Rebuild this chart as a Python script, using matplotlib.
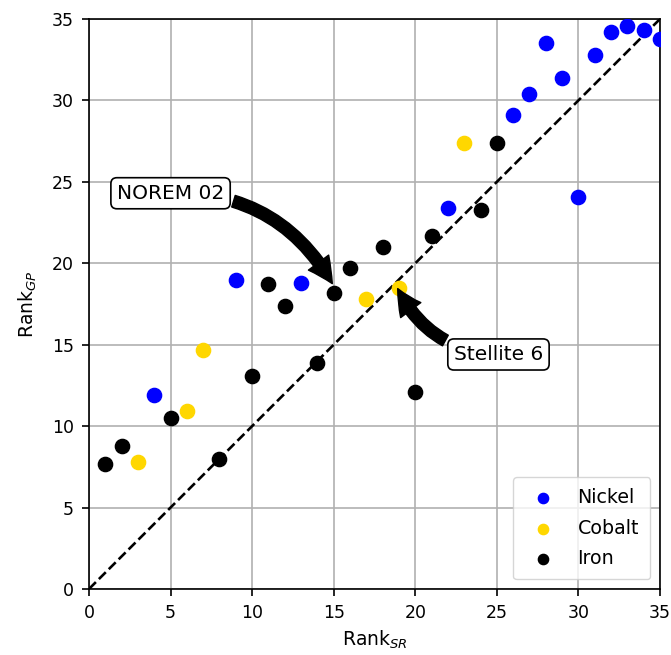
import matplotlib.pyplot as plt

# -----------------------------
# Data (rank by SR vs rank by GP)
# -----------------------------
nickel_sr = [4, 9, 13, 22, 26, 27, 28, 29, 30, 31, 32, 33, 34, 35]
nickel_gp = [11.9, 19.0, 18.8, 23.4, 29.1, 30.4, 33.5, 31.4, 24.1, 32.8, 34.2, 34.6, 34.3, 33.8]

cobalt_sr = [3, 6, 7, 17, 19, 23]
cobalt_gp = [7.8, 10.9, 14.7, 17.8, 18.5, 27.4]

iron_sr = [1, 2, 5, 8, 10, 11, 12, 14, 15, 16, 18, 20, 21, 24, 25]
iron_gp = [7.7, 8.8, 10.5, 8.0, 13.1, 18.7, 17.4, 13.9, 18.2, 19.7, 21.0, 12.1, 21.7, 23.3, 27.4]

fig = plt.figure(figsize=(6.71, 6.55), dpi=100)
ax = fig.add_axes([0.1326, 0.1008, 0.851, 0.8702])

ax.plot([0, 35], [0, 35], "k--", linewidth=1.9, zorder=2)

ax.scatter(nickel_sr, nickel_gp, s=105, color="blue", label="Nickel", zorder=3)
ax.scatter(cobalt_sr, cobalt_gp, s=105, color="gold", label="Cobalt", zorder=3)
ax.scatter(iron_sr, iron_gp, s=105, color="black", label="Iron", zorder=3)

# -----------------------------
# Annotations
# -----------------------------
bbox = dict(boxstyle="round,pad=0.3", fc="white", ec="black", lw=1.2)
arrow = dict(arrowstyle="simple,head_width=1.25,head_length=1.25,tail_width=0.6",
             connectionstyle="arc3,rad=-0.3", fc="black", ec="black")

ax.annotate("NOREM 02", xy=(15, 18.6), xytext=(5.0, 24.3),
            fontsize=14.5, ha="center", va="center", bbox=bbox,
            arrowprops=arrow, zorder=4)
ax.annotate("Stellite 6", xy=(18.85, 18.6), xytext=(25.1, 14.4),
            fontsize=14.5, ha="center", va="center", bbox=bbox,
            arrowprops=arrow, zorder=4)

ax.set_xlim(0, 35)
ax.set_ylim(0, 35)
ax.set_xticks(range(0, 36, 5))
ax.set_yticks(range(0, 36, 5))
ax.tick_params(labelsize=12.5, length=5, width=1.2, pad=6)
for sp in ax.spines.values():
    sp.set_linewidth(1.2)
ax.grid(True, color="#b0b0b0", linewidth=1.2)
ax.set_axisbelow(True)
ax.set_xlabel("Rank$_{SR}$", fontsize=13.5, labelpad=5)
ax.set_ylabel("Rank$_{GP}$", fontsize=13.5, labelpad=9)
ax.legend(loc="lower right", fontsize=13.7, markerscale=0.72,
          borderpad=0.6, labelspacing=0.6)

fig.savefig("out.png", dpi=100)
